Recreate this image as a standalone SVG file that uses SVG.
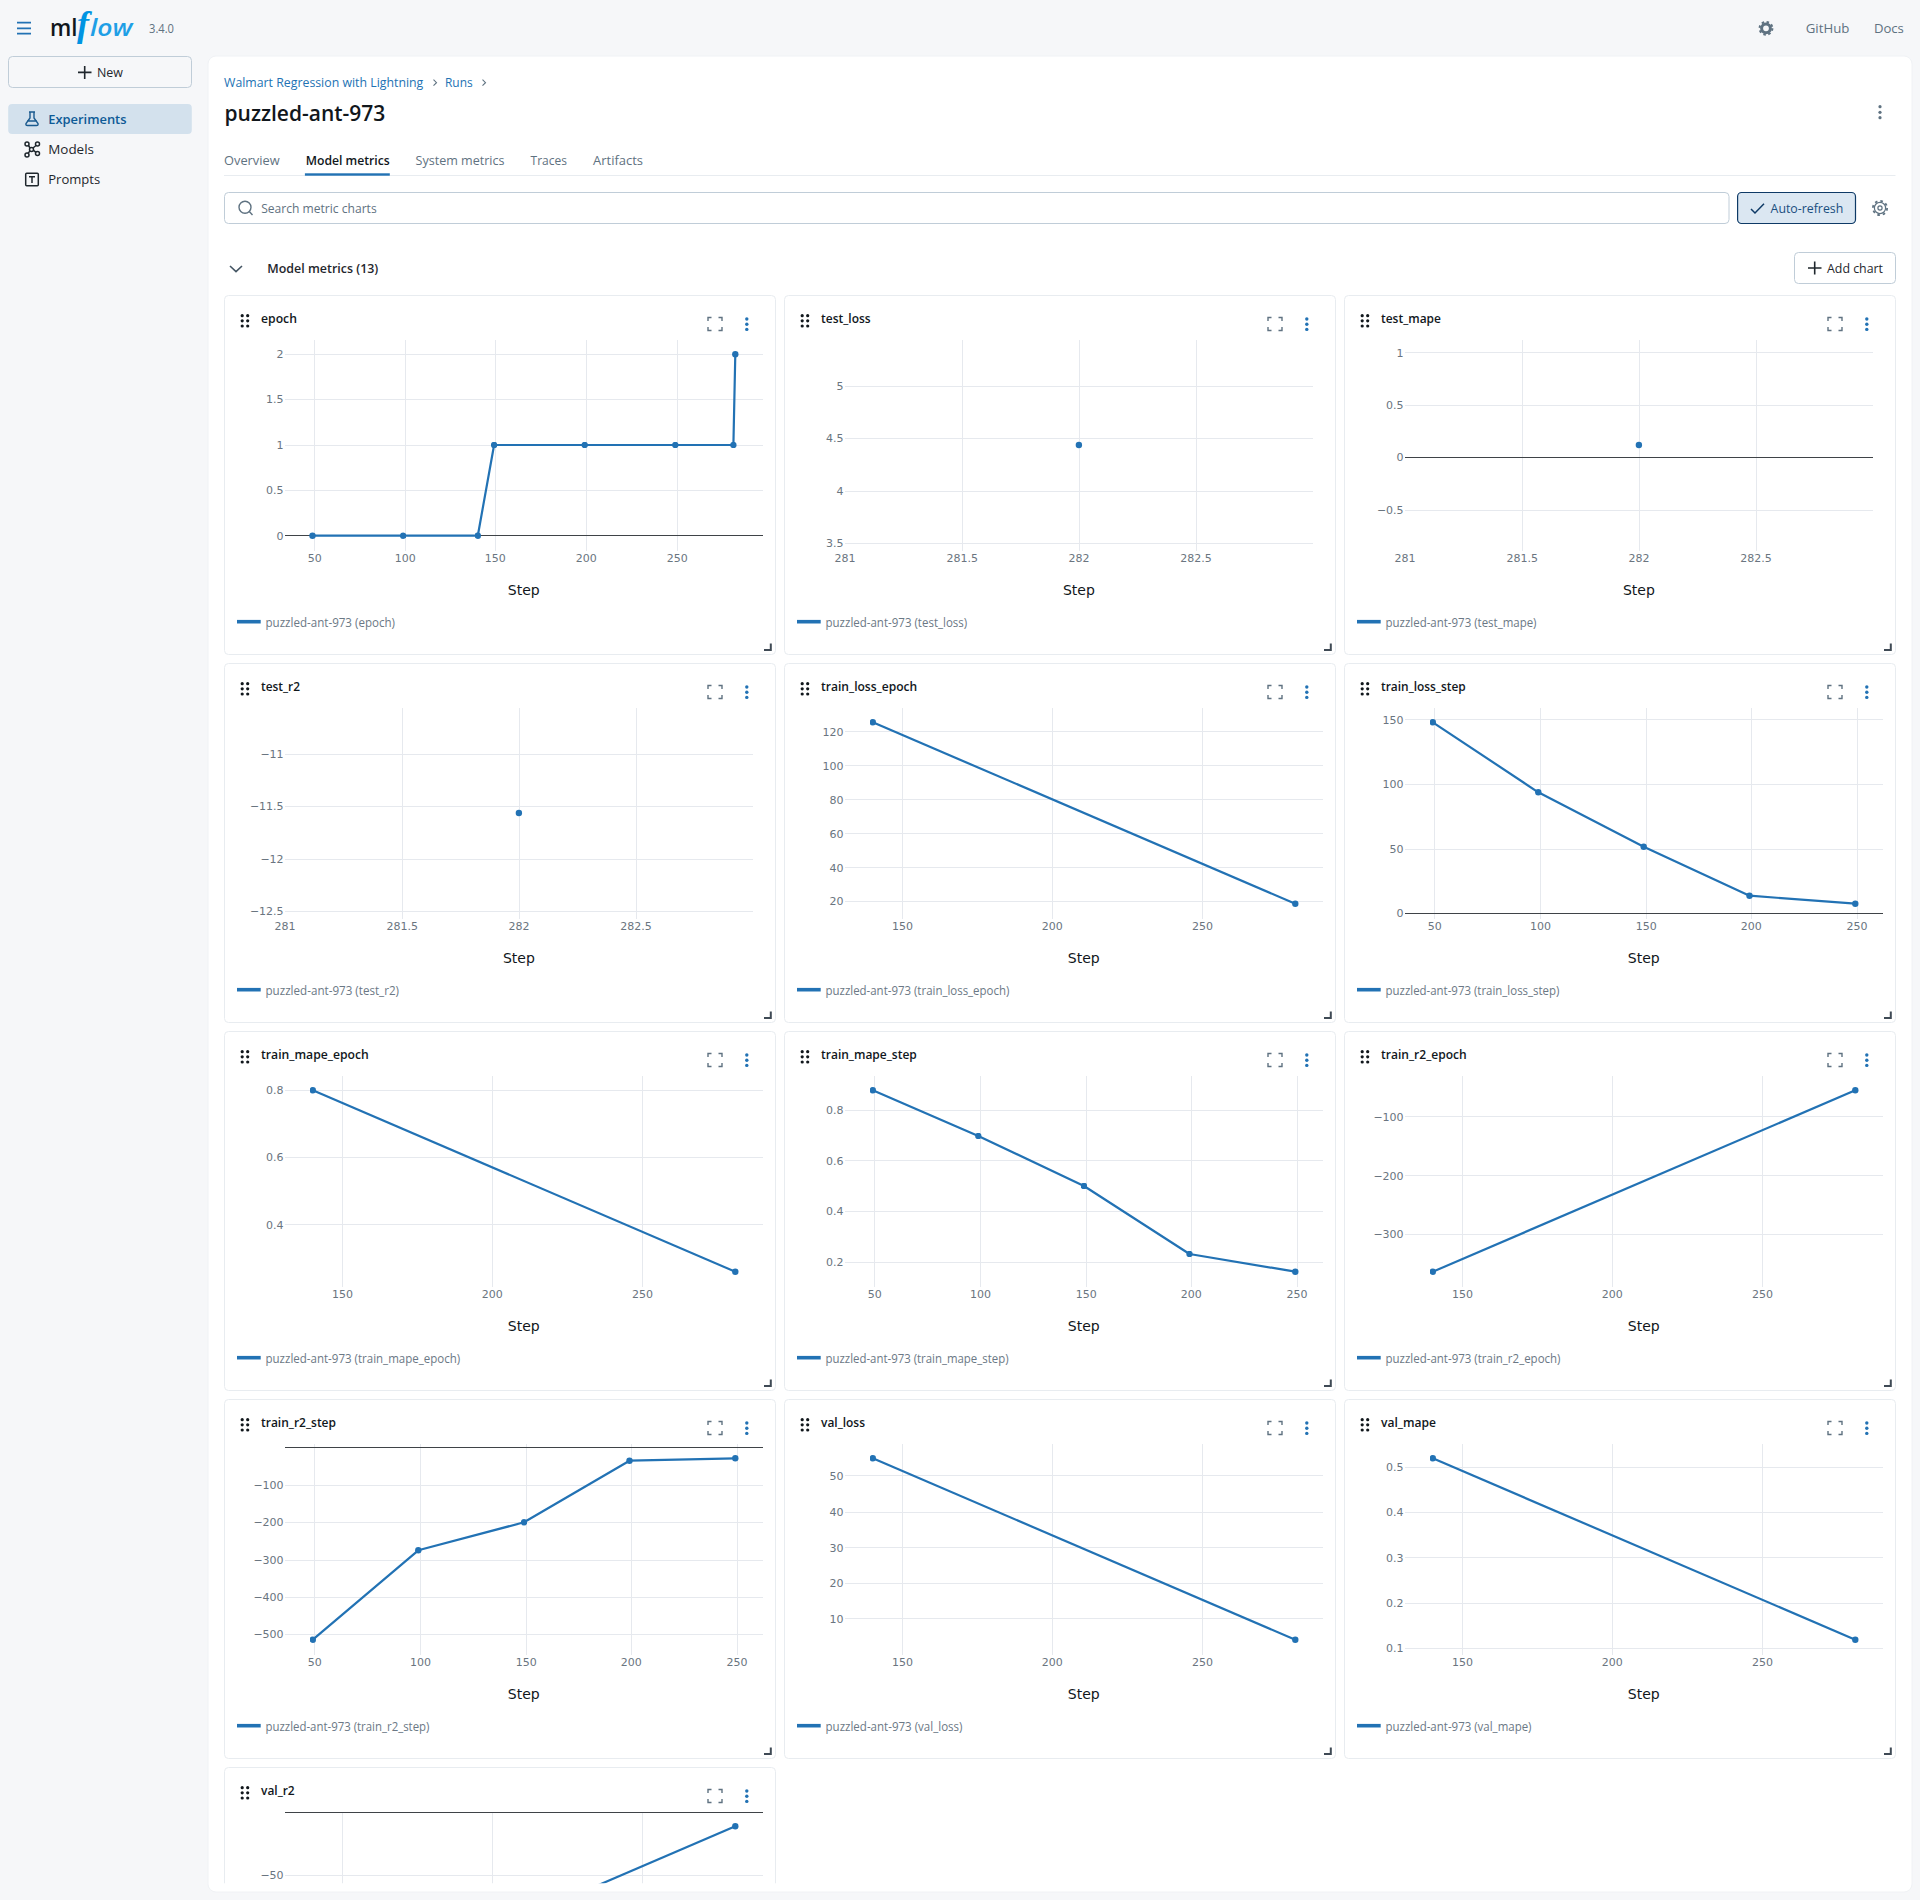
<svg xmlns="http://www.w3.org/2000/svg" width="1920" height="1900" viewBox="0 0 1920 1900">
<style>
text{font-family:"Open Sans","Noto Sans","Liberation Sans",sans-serif;font-size:13px;fill:#1f272d}
.sec{fill:#5f7281}
.link{fill:#2272b4}
.t{font-weight:600;fill:#11171c}
.l{font-size:12px;fill:#6b7885}
.tk{font-family:"DejaVu Sans",Verdana,sans-serif;font-size:11px;fill:#6a7580}
.ye{text-anchor:end}
.xm{text-anchor:middle}
.s{font-family:"DejaVu Sans",Verdana,sans-serif;font-size:14px;text-anchor:middle;fill:#11171c}
.grid{fill:none;stroke:#e6e9ee;stroke-width:1;shape-rendering:crispEdges}
.zero{fill:none;stroke:#3f4347;stroke-width:1;shape-rendering:crispEdges}
.ser{fill:none;stroke:#2272b4;stroke-width:2.2;stroke-linejoin:round;marker-start:url(#dot);marker-mid:url(#dot);marker-end:url(#dot)}
.pt{fill:#2272b4}
.lg{stroke:#2272b4;stroke-width:3.6;fill:none}
.box{fill:none;stroke:#c0cdd8;stroke-width:1}
.ic{fill:none;stroke:#1f272d;stroke-width:1.5}
.ics{fill:none;stroke:#5f7281;stroke-width:1.4}
</style>
<defs>
<marker id="dot" viewBox="-3.3 -3.3 6.6 6.6" markerUnits="userSpaceOnUse" markerWidth="6.6" markerHeight="6.6" refX="0" refY="0"><circle r="3.2" fill="#2272b4"/></marker>
<clipPath id="clipMain"><rect x="208" y="56" width="1704" height="1827.3"/></clipPath>
<g id="chrome">
<rect x="224.5" y="295.5" width="551" height="359" rx="4" fill="#fff" stroke="#e8ecf0"/>
<g fill="#11171c"><circle cx="242.2" cy="315.7" r="1.6"/><circle cx="247.7" cy="315.7" r="1.6"/><circle cx="242.2" cy="320.8" r="1.6"/><circle cx="247.7" cy="320.8" r="1.6"/><circle cx="242.2" cy="326" r="1.6"/><circle cx="247.7" cy="326" r="1.6"/></g>
<path class="ics" d="M708,321V317.5H711.5M718.5,317.5H722V321M722,327V330.5H718.5M711.5,330.5H708V327"/>
<g class="pt"><circle cx="746.8" cy="319" r="1.7"/><circle cx="746.8" cy="324.2" r="1.7"/><circle cx="746.8" cy="329.4" r="1.7"/></g>
<path d="M770.8,643.4V650H764" fill="none" stroke="#3f4a55" stroke-width="2"/>
</g>
</defs>
<rect width="1920" height="1900" fill="#f6f7f9"/>
<g id="topbar">
<path d="M17,22.7H31M17,28.3H31M17,33.7H31" fill="none" stroke="#2272b4" stroke-width="1.7"/>
<text id="logo" y="35.7" style="font-size:24px;font-weight:600;fill:#11171c"><tspan x="50" textLength="27.5" lengthAdjust="spacingAndGlyphs">ml</tspan><tspan x="77" style="font-family:'Liberation Serif',serif;font-style:italic;font-size:36px;font-weight:700;fill:#0194e2">f</tspan><tspan x="90" textLength="42.5" lengthAdjust="spacingAndGlyphs" style="font-style:italic;font-weight:600;fill:#1f9fe6">low</tspan></text>
<text class="sec" x="149" y="33" textLength="25" lengthAdjust="spacingAndGlyphs" style="font-size:12px">3.4.0</text>
<g id="theme-gear"><circle cx="1766" cy="28.3" r="4.4" fill="none" stroke="#5f7281" stroke-width="3"/><circle cx="1766" cy="28.3" r="6.4" fill="none" stroke="#5f7281" stroke-width="2" stroke-dasharray="2.5 2.5"/></g>
<text class="sec" x="1805.7" y="33" textLength="43.7" lengthAdjust="spacingAndGlyphs">GitHub</text>
<text class="sec" x="1873.9" y="33" textLength="30" lengthAdjust="spacingAndGlyphs">Docs</text>
</g>
<g id="sidebar">
<rect class="box" x="8.5" y="56.5" width="183" height="31" rx="4"/>
<path class="ic" d="M84.7,66V79M78,72.4H91.5" style="stroke-width:1.6"/>
<text x="97" y="76.7" textLength="26" lengthAdjust="spacingAndGlyphs">New</text>
<rect x="8.2" y="104" width="183.6" height="30" rx="4" fill="#d3e1ed"/>
<path d="M29,112H35M30,112V118L26,123.5Q25.5,125.5 27.5,125.5H36.5Q38.5,125.5 38,123.5L34,118V112M27,121H37" fill="none" stroke="#1a5a8e" stroke-width="1.4"/>
<text x="48.2" y="124" textLength="78.3" lengthAdjust="spacingAndGlyphs" style="fill:#0e5a96;font-weight:600">Experiments</text>
<g class="ic"><circle cx="27" cy="144" r="2"/><circle cx="37.5" cy="144" r="2"/><circle cx="31.5" cy="149.5" r="2"/><circle cx="27" cy="155" r="2"/><circle cx="37.5" cy="153.5" r="2"/><path d="M28.5,145.5L30,148M36,145.5L33,148M30,151L28,153.3M33.5,150.3L36,152.3"/></g>
<text x="48.2" y="153.7" textLength="45.8" lengthAdjust="spacingAndGlyphs">Models</text>
<rect class="ic" x="25.7" y="173.2" width="12.6" height="12.6" rx="1"/>
<path class="ic" d="M29,176.8H35M32,176.8V183"/>
<text x="48.2" y="183.7" textLength="52" lengthAdjust="spacingAndGlyphs">Prompts</text>
</g>
<rect id="main-panel" x="208" y="56" width="1704" height="1836" rx="8" fill="#fff" stroke="#f0f2f5"/>
<g id="run-header">
<text class="link" x="224" y="87" textLength="199.3" lengthAdjust="spacingAndGlyphs">Walmart Regression with Lightning</text>
<path class="ics" d="M433.5,79.7L436.5,82.7L433.5,85.7M482.5,79.7L485.5,82.7L482.5,85.7" style="stroke-width:1.1"/>
<text class="link" x="445" y="87" textLength="27.7" lengthAdjust="spacingAndGlyphs">Runs</text>
<text x="224.5" y="120.5" textLength="160.8" lengthAdjust="spacingAndGlyphs" style="font-size:22px;font-weight:600;fill:#11171c">puzzled-ant-973</text>
<g fill="#5f7281"><circle cx="1880" cy="106.7" r="1.6"/><circle cx="1880" cy="112.3" r="1.6"/><circle cx="1880" cy="117.7" r="1.6"/></g>
<text class="sec" x="224" y="165" textLength="55.6" lengthAdjust="spacingAndGlyphs">Overview</text>
<text x="305.7" y="165" textLength="84.1" lengthAdjust="spacingAndGlyphs" style="font-weight:600;fill:#11171c">Model metrics</text>
<text class="sec" x="415.5" y="165" textLength="89" lengthAdjust="spacingAndGlyphs">System metrics</text>
<text class="sec" x="530.6" y="165" textLength="36.4" lengthAdjust="spacingAndGlyphs">Traces</text>
<text class="sec" x="593" y="165" textLength="50" lengthAdjust="spacingAndGlyphs">Artifacts</text>
<path d="M224,175.5H1895.5" stroke="#e8ecf0" fill="none"/>
<rect x="304.9" y="173.3" width="84.9" height="2.4" fill="#2272b4"/>
</g>
<g id="toolbar">
<rect class="box" x="224.5" y="192.5" width="1504.5" height="31" rx="4"/>
<circle class="ics" cx="245" cy="207.3" r="6"/><path class="ics" d="M249.3,211.6L252.5,215"/>
<text class="sec" x="261.2" y="213" textLength="115.5" lengthAdjust="spacingAndGlyphs">Search metric charts</text>
<rect x="1737.6" y="192.5" width="117.9" height="31" rx="4" fill="#dbe7f2" stroke="#0e3a66" stroke-width="1.2"/>
<path d="M1751,209L1755,213L1764,203.8" fill="none" stroke="#0e3a66" stroke-width="1.5"/>
<text x="1770.6" y="213" textLength="72.7" lengthAdjust="spacingAndGlyphs" style="fill:#1a4f80">Auto-refresh</text>
<g id="settings-gear"><circle class="ics" cx="1880" cy="208" r="5.6" style="stroke-width:1.2"/><circle class="ics" cx="1880" cy="208" r="2.1" style="stroke-width:1.2"/><circle cx="1880" cy="208" r="7.1" fill="none" stroke="#5f7281" stroke-width="1.8" stroke-dasharray="2.6 3"/></g>
</g>
<g id="section-header">
<path d="M230,266L236,271.6L242,266" fill="none" stroke="#445563" stroke-width="1.6"/>
<text x="267.3" y="272.7" textLength="111" lengthAdjust="spacingAndGlyphs" style="font-weight:600;fill:#1f272d">Model metrics (13)</text>
<rect class="box" x="1794.5" y="252.5" width="101" height="31" rx="4"/>
<path class="ic" d="M1814.7,261.5V274.5M1808,268H1821.5" style="stroke-width:1.6"/>
<text x="1827" y="272.7" textLength="56" lengthAdjust="spacingAndGlyphs">Add chart</text>
</g>
<g id="charts" clip-path="url(#clipMain)">

<g id="card-epoch"><use href="#chrome"/>
<text class="t" x="261" y="323" textLength="35.9" lengthAdjust="spacingAndGlyphs">epoch</text>
<path class="grid" d="M285,354.3H763M285,399.3H763M285,445H763M285,490.3H763M314.7,340V551M405.3,340V551M495.2,340V551M586.2,340V551M677.2,340V551"/>
<path class="zero" d="M285,535.7H763"/>
<polyline class="ser" points="312.5,535.7 403.1,535.7 477.8,535.7 494.1,445 584.7,445 675.3,445 733.4,445 735.3,354.3"/>
<g class="tk ye"><text class="tk ye" x="283.6" y="358.3">2</text><text class="tk ye" x="283.6" y="403.3">1.5</text><text class="tk ye" x="283.6" y="449">1</text><text class="tk ye" x="283.6" y="494.3">0.5</text><text class="tk ye" x="283.6" y="539.7">0</text></g>
<text class="tk xm" x="314.7" y="562">50</text><text class="tk xm" x="405.3" y="562">100</text><text class="tk xm" x="495.2" y="562">150</text><text class="tk xm" x="586.2" y="562">200</text><text class="tk xm" x="677.2" y="562">250</text>
<text class="s" x="523.7" y="595">Step</text>
<path class="lg" d="M237,621.7H260.7"/><text class="l" x="265.5" y="627.3" textLength="129.5" lengthAdjust="spacingAndGlyphs">puzzled-ant-973 (epoch)</text>
</g>

<g id="card-test_loss" transform="translate(560,0)"><use href="#chrome"/>
<text class="t" x="261" y="323" textLength="49.6" lengthAdjust="spacingAndGlyphs">test_loss</text>
<path class="grid" d="M285,386.3H753M285,438.3H753M285,491.3H753M285,543.3H753M402.3,340V551M519.2,340V551M636.5,340V551"/>
<circle class="pt" cx="518.9" cy="445" r="3.2"/>
<text class="tk ye" x="283.6" y="390.3">5</text><text class="tk ye" x="283.6" y="442.3">4.5</text><text class="tk ye" x="283.6" y="495.3">4</text><text class="tk ye" x="283.6" y="547.3">3.5</text>
<text class="tk xm" x="285" y="562">281</text><text class="tk xm" x="402.3" y="562">281.5</text><text class="tk xm" x="518.9" y="562">282</text><text class="tk xm" x="636.1" y="562">282.5</text>
<text class="s" x="518.9" y="595">Step</text>
<path class="lg" d="M237,621.7H260.7"/><text class="l" x="265.5" y="627.3" textLength="141.7" lengthAdjust="spacingAndGlyphs">puzzled-ant-973 (test_loss)</text>
</g>

<g id="card-test_mape" transform="translate(1120,0)"><use href="#chrome"/>
<text class="t" x="261" y="323" textLength="59.9" lengthAdjust="spacingAndGlyphs">test_mape</text>
<path class="grid" d="M285,352.3H753M285,405.3H753M285,510.3H753M402.3,340V551M519.2,340V551M636.5,340V551"/>
<path class="zero" d="M285,457.3H753"/>
<circle class="pt" cx="518.9" cy="445" r="3.2"/>
<text class="tk ye" x="283.6" y="356.8">1</text><text class="tk ye" x="283.6" y="409.3">0.5</text><text class="tk ye" x="283.6" y="461.3">0</text><text class="tk ye" x="283.6" y="514.3">−0.5</text>
<text class="tk xm" x="285" y="562">281</text><text class="tk xm" x="402.3" y="562">281.5</text><text class="tk xm" x="518.9" y="562">282</text><text class="tk xm" x="636.1" y="562">282.5</text>
<text class="s" x="518.9" y="595">Step</text>
<path class="lg" d="M237,621.7H260.7"/><text class="l" x="265.5" y="627.3" textLength="151" lengthAdjust="spacingAndGlyphs">puzzled-ant-973 (test_mape)</text>
</g>

<g id="card-test_r2" transform="translate(0,368)"><use href="#chrome"/>
<text class="t" x="261" y="323" textLength="39" lengthAdjust="spacingAndGlyphs">test_r2</text>
<path class="grid" d="M285,386.3H753M285,438.3H753M285,491.3H753M285,543.3H753M402.3,340V551M519.2,340V551M636.5,340V551"/>
<circle class="pt" cx="518.9" cy="445" r="3.2"/>
<text class="tk ye" x="283.6" y="390.3">−11</text><text class="tk ye" x="283.6" y="442.3">−11.5</text><text class="tk ye" x="283.6" y="495.3">−12</text><text class="tk ye" x="283.6" y="547.3">−12.5</text>
<text class="tk xm" x="285" y="562">281</text><text class="tk xm" x="402.3" y="562">281.5</text><text class="tk xm" x="518.9" y="562">282</text><text class="tk xm" x="636.1" y="562">282.5</text>
<text class="s" x="518.9" y="595">Step</text>
<path class="lg" d="M237,621.7H260.7"/><text class="l" x="265.5" y="627.3" textLength="133.5" lengthAdjust="spacingAndGlyphs">puzzled-ant-973 (test_r2)</text>
</g>

<g id="card-train_loss_epoch" transform="translate(560,368)"><use href="#chrome"/>
<text class="t" x="261" y="323" textLength="96.2" lengthAdjust="spacingAndGlyphs">train_loss_epoch</text>
<path class="grid" d="M285,363.3H763M285,397.7H763M285,431.7H763M285,465.7H763M285,499.7H763M285,533.3H763M342.4,340V551M492.2,340V551M642.4,340V551"/>
<polyline class="ser" points="312.8,354.3 735.3,535.7"/>
<text class="tk ye" x="283.6" y="367.8">120</text><text class="tk ye" x="283.6" y="401.7">100</text><text class="tk ye" x="283.6" y="435.7">80</text><text class="tk ye" x="283.6" y="469.7">60</text><text class="tk ye" x="283.6" y="503.7">40</text><text class="tk ye" x="283.6" y="537.3">20</text>
<text class="tk xm" x="342.4" y="562">150</text><text class="tk xm" x="492.2" y="562">200</text><text class="tk xm" x="642.4" y="562">250</text>
<text class="s" x="523.7" y="595">Step</text>
<path class="lg" d="M237,621.7H260.7"/><text class="l" x="265.5" y="627.3" textLength="183.8" lengthAdjust="spacingAndGlyphs">puzzled-ant-973 (train_loss_epoch)</text>
</g>

<g id="card-train_loss_step" transform="translate(1120,368)"><use href="#chrome"/>
<text class="t" x="261" y="323" textLength="84.7" lengthAdjust="spacingAndGlyphs">train_loss_step</text>
<path class="grid" d="M285,351.7H763M285,416.3H763M285,481.3H763M314.5,340V551M420.5,340V551M526.3,340V551M631.3,340V551M737.1,340V551"/>
<path class="zero" d="M285,545.3H763"/>
<polyline class="ser" points="312.8,354.3 418.3,424.3 523.7,478.7 629.5,527.7 735.3,535.7"/>
<text class="tk ye" x="283.6" y="355.7">150</text><text class="tk ye" x="283.6" y="420.3">100</text><text class="tk ye" x="283.6" y="485.3">50</text><text class="tk ye" x="283.6" y="549.3">0</text>
<text class="tk xm" x="314.7" y="562">50</text><text class="tk xm" x="420.5" y="562">100</text><text class="tk xm" x="526.3" y="562">150</text><text class="tk xm" x="631.3" y="562">200</text><text class="tk xm" x="737.1" y="562">250</text>
<text class="s" x="523.7" y="595">Step</text>
<path class="lg" d="M237,621.7H260.7"/><text class="l" x="265.5" y="627.3" textLength="173.9" lengthAdjust="spacingAndGlyphs">puzzled-ant-973 (train_loss_step)</text>
</g>

<g id="card-train_mape_epoch" transform="translate(0,736)"><use href="#chrome"/>
<text class="t" x="261" y="323" textLength="107.8" lengthAdjust="spacingAndGlyphs">train_mape_epoch</text>
<path class="grid" d="M285,354H763M285,421.2H763M285,488.5H763M342.4,340V551M492.2,340V551M642.4,340V551"/>
<polyline class="ser" points="312.8,354.3 735.3,535.7"/>
<text class="tk ye" x="283.6" y="358">0.8</text><text class="tk ye" x="283.6" y="425.2">0.6</text><text class="tk ye" x="283.6" y="492.5">0.4</text>
<text class="tk xm" x="342.4" y="562">150</text><text class="tk xm" x="492.2" y="562">200</text><text class="tk xm" x="642.4" y="562">250</text>
<text class="s" x="523.7" y="595">Step</text>
<path class="lg" d="M237,621.7H260.7"/><text class="l" x="265.5" y="627.3" textLength="194.7" lengthAdjust="spacingAndGlyphs">puzzled-ant-973 (train_mape_epoch)</text>
</g>

<g id="card-train_mape_step" transform="translate(560,736)"><use href="#chrome"/>
<text class="t" x="261" y="323" textLength="95.8" lengthAdjust="spacingAndGlyphs">train_mape_step</text>
<path class="grid" d="M285,374.3H763M285,424.7H763M285,475.3H763M285,526.3H763M314.7,340V551M420.5,340V551M526.3,340V551M631.3,340V551M737.1,340V551"/>
<polyline class="ser" points="312.8,354.3 418.3,400 524,450 629.5,518 735.3,535.7"/>
<text class="tk ye" x="283.6" y="378.3">0.8</text><text class="tk ye" x="283.6" y="428.7">0.6</text><text class="tk ye" x="283.6" y="479.3">0.4</text><text class="tk ye" x="283.6" y="530.3">0.2</text>
<text class="tk xm" x="314.7" y="562">50</text><text class="tk xm" x="420.5" y="562">100</text><text class="tk xm" x="526.3" y="562">150</text><text class="tk xm" x="631.3" y="562">200</text><text class="tk xm" x="737.1" y="562">250</text>
<text class="s" x="523.7" y="595">Step</text>
<path class="lg" d="M237,621.7H260.7"/><text class="l" x="265.5" y="627.3" textLength="183" lengthAdjust="spacingAndGlyphs">puzzled-ant-973 (train_mape_step)</text>
</g>

<g id="card-train_r2_epoch" transform="translate(1120,736)"><use href="#chrome"/>
<text class="t" x="261" y="323" textLength="85.7" lengthAdjust="spacingAndGlyphs">train_r2_epoch</text>
<path class="grid" d="M285,380.7H763M285,439.5H763M285,498.3H763M342.4,340V551M492.2,340V551M642.4,340V551"/>
<polyline class="ser" points="312.8,535.7 735.3,354.3"/>
<text class="tk ye" x="283.6" y="384.7">−100</text><text class="tk ye" x="283.6" y="443.5">−200</text><text class="tk ye" x="283.6" y="502.3">−300</text>
<text class="tk xm" x="342.4" y="562">150</text><text class="tk xm" x="492.2" y="562">200</text><text class="tk xm" x="642.4" y="562">250</text>
<text class="s" x="523.7" y="595">Step</text>
<path class="lg" d="M237,621.7H260.7"/><text class="l" x="265.5" y="627.3" textLength="175" lengthAdjust="spacingAndGlyphs">puzzled-ant-973 (train_r2_epoch)</text>
</g>

<g id="card-train_r2_step" transform="translate(0,1104)"><use href="#chrome"/>
<text class="t" x="261" y="323" textLength="75" lengthAdjust="spacingAndGlyphs">train_r2_step</text>
<path class="grid" d="M285,381.3H763M285,418.3H763M285,456.3H763M285,493.3H763M285,530.3H763M314.7,340V551M420.5,340V551M526.3,340V551M631.3,340V551M737.1,340V551"/>
<path class="zero" d="M285,343.3H763"/>
<polyline class="ser" points="312.8,535.7 418.3,446.3 524,418.3 629.5,356.7 735.3,354.3"/>
<text class="tk ye" x="283.6" y="385.3">−100</text><text class="tk ye" x="283.6" y="422.3">−200</text><text class="tk ye" x="283.6" y="460.3">−300</text><text class="tk ye" x="283.6" y="497.3">−400</text><text class="tk ye" x="283.6" y="534.3">−500</text>
<text class="tk xm" x="314.7" y="562">50</text><text class="tk xm" x="420.5" y="562">100</text><text class="tk xm" x="526.3" y="562">150</text><text class="tk xm" x="631.3" y="562">200</text><text class="tk xm" x="737.1" y="562">250</text>
<text class="s" x="523.7" y="595">Step</text>
<path class="lg" d="M237,621.7H260.7"/><text class="l" x="265.5" y="627.3" textLength="163.9" lengthAdjust="spacingAndGlyphs">puzzled-ant-973 (train_r2_step)</text>
</g>

<g id="card-val_loss" transform="translate(560,1104)"><use href="#chrome"/>
<text class="t" x="261" y="323" textLength="44" lengthAdjust="spacingAndGlyphs">val_loss</text>
<path class="grid" d="M285,371.5H763M285,408.2H763M285,443.8H763M285,479.3H763M285,514.8H763M342.4,340V551M492.2,340V551M642.4,340V551"/>
<polyline class="ser" points="312.8,354.3 735.3,535.7"/>
<text class="tk ye" x="283.6" y="375.5">50</text><text class="tk ye" x="283.6" y="412.2">40</text><text class="tk ye" x="283.6" y="447.8">30</text><text class="tk ye" x="283.6" y="483.3">20</text><text class="tk ye" x="283.6" y="518.8">10</text>
<text class="tk xm" x="342.4" y="562">150</text><text class="tk xm" x="492.2" y="562">200</text><text class="tk xm" x="642.4" y="562">250</text>
<text class="s" x="523.7" y="595">Step</text>
<path class="lg" d="M237,621.7H260.7"/><text class="l" x="265.5" y="627.3" textLength="137" lengthAdjust="spacingAndGlyphs">puzzled-ant-973 (val_loss)</text>
</g>

<g id="card-val_mape" transform="translate(1120,1104)"><use href="#chrome"/>
<text class="t" x="261" y="323" textLength="55" lengthAdjust="spacingAndGlyphs">val_mape</text>
<path class="grid" d="M285,363.3H763M285,408.3H763M285,453.7H763M285,499.3H763M285,544.3H763M342.4,340V551M492.2,340V551M642.4,340V551"/>
<polyline class="ser" points="312.8,354.3 735.3,535.7"/>
<text class="tk ye" x="283.6" y="367.3">0.5</text><text class="tk ye" x="283.6" y="412.3">0.4</text><text class="tk ye" x="283.6" y="457.7">0.3</text><text class="tk ye" x="283.6" y="503.3">0.2</text><text class="tk ye" x="283.6" y="548.3">0.1</text>
<text class="tk xm" x="342.4" y="562">150</text><text class="tk xm" x="492.2" y="562">200</text><text class="tk xm" x="642.4" y="562">250</text>
<text class="s" x="523.7" y="595">Step</text>
<path class="lg" d="M237,621.7H260.7"/><text class="l" x="265.5" y="627.3" textLength="146" lengthAdjust="spacingAndGlyphs">puzzled-ant-973 (val_mape)</text>
</g>

<g id="card-val_r2" transform="translate(0,1472)"><use href="#chrome"/>
<text class="t" x="261" y="323" textLength="33.7" lengthAdjust="spacingAndGlyphs">val_r2</text>
<path class="grid" d="M285,403H763M342.4,340V551M492.2,340V551M642.4,340V551"/>
<path class="zero" d="M285,340.3H763"/>
<polyline class="ser" points="312.8,535.7 735.3,354.3"/>
<text class="tk ye" x="283.6" y="407">−50</text>
</g>
</g>
</svg>
